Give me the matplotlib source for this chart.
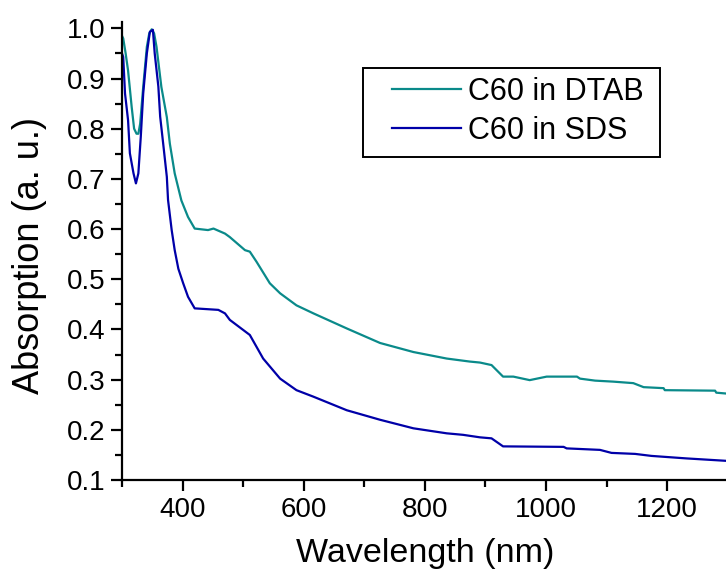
import matplotlib
matplotlib.use("Agg")
import matplotlib.pyplot as plt
from matplotlib.ticker import MultipleLocator, FormatStrFormatter
from matplotlib.patches import Rectangle

plt.rcParams['font.family'] = ['Liberation Sans', 'DejaVu Sans']

# ---- data ----
dtab_wl = [300, 302, 306, 310, 316, 320, 324, 327, 330, 335, 341, 345, 349, 353, 357,
           365, 374, 379, 387, 398, 409, 420, 442, 451, 470, 478, 503, 511, 522, 544,
           561, 588, 616, 671, 726, 781, 836, 874, 891, 910, 929, 946, 973, 1001, 1051,
           1056, 1081, 1111, 1144, 1161, 1194, 1196, 1279, 1281, 1300]
dtab_abs = [0.985, 0.98, 0.95, 0.916, 0.843, 0.80, 0.79, 0.79, 0.81, 0.883, 0.963, 0.99,
            0.998, 0.99, 0.963, 0.883, 0.823, 0.77, 0.711, 0.657, 0.624, 0.601, 0.598,
            0.601, 0.591, 0.584, 0.558, 0.555, 0.535, 0.492, 0.472, 0.448, 0.432, 0.402,
            0.373, 0.355, 0.342, 0.336, 0.334, 0.329, 0.306, 0.306, 0.299, 0.306, 0.306,
            0.302, 0.298, 0.296, 0.293, 0.285, 0.283, 0.279, 0.278, 0.274, 0.272]

sds_wl = [300, 302, 305, 310, 313, 319, 323, 327, 331, 335, 341, 346, 351, 354, 360,
          363, 368, 374, 376, 382, 387, 393, 401, 409, 420, 459, 470, 478, 511, 533,
          561, 588, 616, 671, 726, 781, 836, 863, 891, 910, 929, 1029, 1034, 1089, 1108,
          1147, 1174, 1232, 1300]
sds_abs = [0.95, 0.943, 0.870, 0.817, 0.751, 0.711, 0.691, 0.711, 0.784, 0.870, 0.950,
           0.993, 0.997, 0.950, 0.884, 0.824, 0.770, 0.704, 0.658, 0.598, 0.558, 0.521,
           0.492, 0.465, 0.442, 0.439, 0.432, 0.419, 0.389, 0.342, 0.302, 0.279, 0.266,
           0.239, 0.220, 0.203, 0.193, 0.190, 0.185, 0.183, 0.167, 0.166, 0.163, 0.160,
           0.154, 0.152, 0.148, 0.143, 0.138]

series_labels = ["C60 in DTAB", "C60 in SDS"]
x_label = "Wavelength (nm)"
y_label = "Absorption (a. u.)"

W, H = 726, 571
fig = plt.figure(figsize=(W / 100, H / 100), dpi=100)
ax = fig.add_axes([122 / W, 1 - 480 / H, (727.8 - 122) / W, (480 - 21.8) / H])

ax.plot(dtab_wl, dtab_abs, color='#0a8a8a', lw=1.6, label=series_labels[0])
ax.plot(sds_wl, sds_abs, color='#0000a8', lw=1.6, label=series_labels[1])

ax.set_xlim(300, 1300)
ax.set_ylim(0.1, 1.013)

for s in ['top', 'right']:
    ax.spines[s].set_visible(False)
for s in ['left', 'bottom']:
    ax.spines[s].set_linewidth(1.6)

ax.xaxis.set_major_locator(MultipleLocator(200))
ax.xaxis.set_minor_locator(MultipleLocator(100))
ax.yaxis.set_major_locator(MultipleLocator(0.1))
ax.yaxis.set_minor_locator(MultipleLocator(0.05))
ax.yaxis.set_major_formatter(FormatStrFormatter('%.1f'))
ax.xaxis.set_major_formatter(FormatStrFormatter('%d'))

ax.tick_params(which='major', direction='out', length=8, width=1.6, labelsize=20, pad=4)
ax.tick_params(which='minor', direction='out', length=5, width=1.6)

ax.set_xlabel(x_label, fontsize=24.5, labelpad=11)
ax.set_ylabel(y_label, fontsize=26)
ax.yaxis.set_label_coords(-0.124, 0.49)

leg = ax.legend(loc='upper left', bbox_to_anchor=(392 / W, 1 - 77 / H),
                bbox_transform=fig.transFigure, borderaxespad=0, borderpad=0,
                fontsize=22, frameon=False, handlelength=2.25, handletextpad=0.25,
                labelspacing=0.28)

fig.add_artist(Rectangle((363 / W, 1 - 157 / H), (660 - 363) / W, (157 - 68) / H,
                         transform=fig.transFigure, fill=False, edgecolor='black',
                         linewidth=1.4))

fig.savefig("out.png", dpi=100)
